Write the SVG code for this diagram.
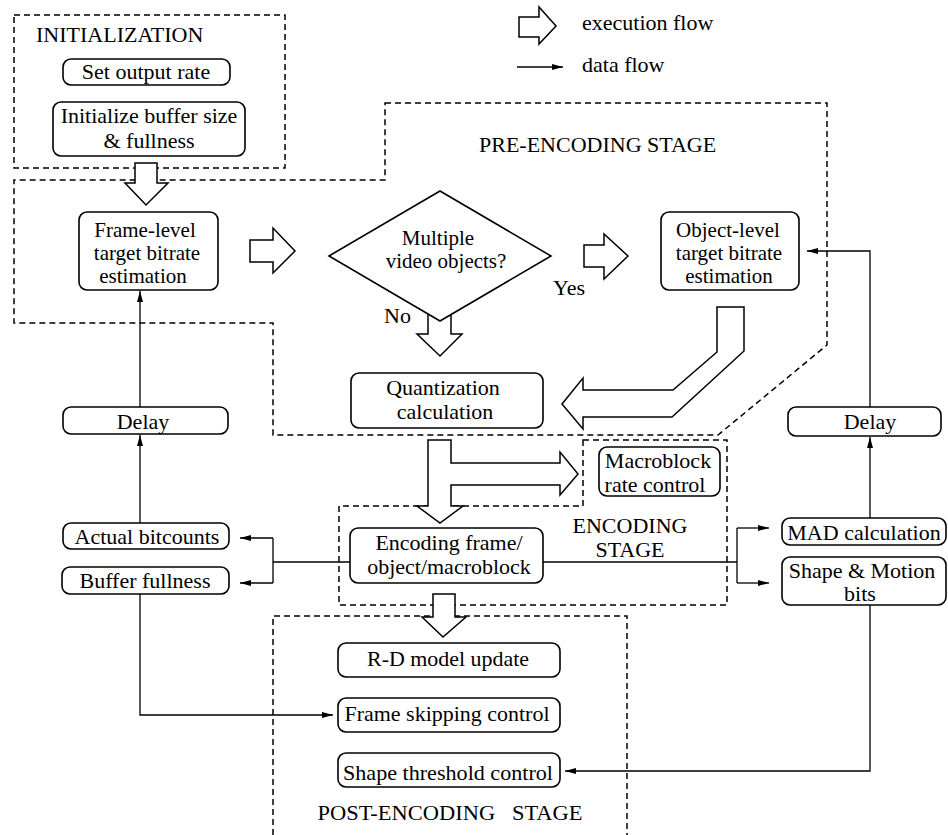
<svg xmlns="http://www.w3.org/2000/svg" width="948" height="835" viewBox="0 0 948 835">
<defs>
<style>
text{font-family:"Liberation Serif","Times New Roman",serif;font-size:22px;fill:#000}
.c{text-anchor:middle}
.t3{font-size:21px}
.box{fill:#fff;stroke:#000;stroke-width:1.6}
.dash{fill:none;stroke:#000;stroke-width:1.5;stroke-dasharray:6 4}
.blk{fill:#fff;stroke:#000;stroke-width:1.5;stroke-linejoin:miter}
.data{fill:none;stroke:#000;stroke-width:1.3}
.arr{marker-end:url(#ah)}
</style>
<marker id="ah" markerUnits="userSpaceOnUse" markerWidth="12" markerHeight="8" refX="11" refY="4" orient="auto">
<path d="M0,1 L11,4 L0,7 Z" fill="#000"/>
</marker>
</defs>
<rect width="948" height="835" fill="#fff"/>

<g id="stages">
<rect class="dash" x="14" y="15" width="271" height="153"/>
<path class="dash" d="M385,103 H827 V345 L718,435 H273 V323 H14 V180 H385 Z"/>
<path class="dash" d="M583,440 H727 V605 H339 V506 H583 Z"/>
<path class="dash" d="M273,835 V616 H627 V835"/>
<text x="36" y="42">INITIALIZATION</text>
<text x="479" y="152">PRE-ENCODING STAGE</text>
<text class="c" x="630" y="533">ENCODING</text>
<text class="c" x="630" y="557">STAGE</text>
<text class="c" x="450" y="820" style="white-space:pre" font-size="24" textLength="265" lengthAdjust="spacingAndGlyphs">POST-ENCODING   STAGE</text>
</g>

<g id="legend">
<path class="blk" d="M519,17 H539 V7 L556,26 L539,44 V37 H519 Z"/>
<text x="582" y="30">execution flow</text>
<line class="data arr" x1="517" y1="67" x2="563" y2="67"/>
<text x="582" y="72">data flow</text>
</g>

<g id="exec-flow">
<path class="blk" d="M135,163 H157 V183 H168 L146,205 L125,183 H135 Z"/>
<path class="blk" d="M250,240 H273 V228 L295,251 L273,273 V262 H250 Z"/>
<path class="blk" d="M584,245 H604 V234 L628,256 L604,279 V267 H584 Z"/>
<path class="blk" d="M428,313 H451 V334 H462 L440,356 L417,334 H428 Z"/>
<path class="blk" d="M717,307 H744 V351 L672,417 H583 V429 L562,404 L583,378 V390 H673 L717,352 Z"/>
<path class="blk" d="M428,440 H451 V463 H560 V452 L578,474 L560,495 V485 H451 V506 H463 L440,523 L417,506 H428 Z"/>
<path class="blk" d="M433,594 H455 V617 H466 L443,637 L422,617 H433 Z"/>
</g>

<g id="n-setrate"><rect class="box" x="63" y="59" width="167" height="26" rx="8"/><text class="c" x="146" y="79">Set output rate</text></g>
<g id="n-initbuf"><rect class="box" x="53" y="102" width="192" height="54" rx="8"/><text class="c" x="149" y="123">Initialize buffer size</text><text class="c" x="149" y="148">&amp; fullness</text></g>
<g id="n-frame"><rect class="box" x="79" y="212" width="139" height="78" rx="8"/><text class="c t3" x="145" y="237">Frame-level</text><text class="c t3" x="147" y="260">target bitrate</text><text class="c t3" x="143" y="283">estimation</text></g>
<g id="n-multi"><path class="box" d="M329,256 L440,191 L551,256 L440,321 Z"/><text class="c t3" x="438" y="245">Multiple</text><text class="c t3" x="446" y="268">video objects?</text></g>
<text x="384" y="323">No</text>
<text x="553" y="295">Yes</text>
<g id="n-object"><rect class="box" x="661" y="212" width="138" height="78" rx="8"/><text class="c t3" x="728" y="237">Object-level</text><text class="c t3" x="729" y="260">target bitrate</text><text class="c t3" x="729" y="283">estimation</text></g>
<g id="n-quant"><rect class="box" x="351" y="373" width="192" height="55" rx="8"/><text class="c" x="443" y="395">Quantization</text><text class="c" x="445" y="419">calculation</text></g>
<g id="n-delay1"><rect class="box" x="63" y="407" width="165" height="27" rx="8"/><text class="c" x="143" y="429">Delay</text></g>
<g id="n-delay2"><rect class="box" x="788" y="407" width="153" height="29" rx="8"/><text class="c" x="870" y="429">Delay</text></g>
<g id="n-mb"><rect class="box" x="599" y="447" width="121" height="49" rx="8"/><text class="c" x="658" y="468">Macroblock</text><text class="c" x="655" y="492">rate control</text></g>
<g id="n-actual"><rect class="box" x="63" y="523" width="166" height="26" rx="8"/><text class="c" x="147" y="544">Actual bitcounts</text></g>
<g id="n-buffer"><rect class="box" x="62" y="567" width="167" height="27" rx="8"/><text class="c" x="145" y="588">Buffer fullness</text></g>
<g id="n-encode"><rect class="box" x="350" y="528" width="193" height="55" rx="8"/><text class="c" x="449" y="550">Encoding frame/</text><text class="c" x="449" y="574">object/macroblock</text></g>
<g id="n-mad"><rect class="box" x="782" y="518" width="164" height="27" rx="8"/><text class="c" x="864" y="540">MAD calculation</text></g>
<g id="n-shape"><rect class="box" x="782" y="557" width="164" height="48" rx="8"/><text class="c" x="862" y="578">Shape &amp; Motion</text><text class="c" x="860" y="601">bits</text></g>
<g id="n-rd"><rect class="box" x="338" y="643" width="222" height="34" rx="8"/><text class="c" x="448" y="666" font-size="24" textLength="162" lengthAdjust="spacingAndGlyphs">R-D model update</text></g>
<g id="n-skip"><rect class="box" x="338" y="698" width="222" height="34" rx="8"/><text class="c" x="447" y="721" font-size="24" textLength="205" lengthAdjust="spacingAndGlyphs">Frame skipping control</text></g>
<g id="n-thresh"><rect class="box" x="338" y="753" width="222" height="34" rx="8"/><text class="c" x="448" y="780" font-size="24" textLength="210" lengthAdjust="spacingAndGlyphs">Shape threshold control</text></g>

<g id="data-flow">
<line class="data arr" x1="140" y1="407" x2="140" y2="291"/>
<line class="data arr" x1="140" y1="523" x2="140" y2="435"/>
<path class="data" d="M350,562 H273 M273,538 V583"/>
<line class="data arr" x1="273" y1="538" x2="240" y2="538"/>
<line class="data arr" x1="273" y1="583" x2="240" y2="583"/>
<path class="data arr" d="M140,594 V715 H333"/>
<path class="data" d="M543,562 H737 M737,528 V583"/>
<line class="data arr" x1="737" y1="528" x2="769" y2="528"/>
<line class="data arr" x1="737" y1="583" x2="769" y2="583"/>
<line class="data arr" x1="870" y1="518" x2="870" y2="437"/>
<path class="data arr" d="M870,407 V251 H807"/>
<path class="data arr" d="M870,605 V771 H565"/>
</g>
</svg>
